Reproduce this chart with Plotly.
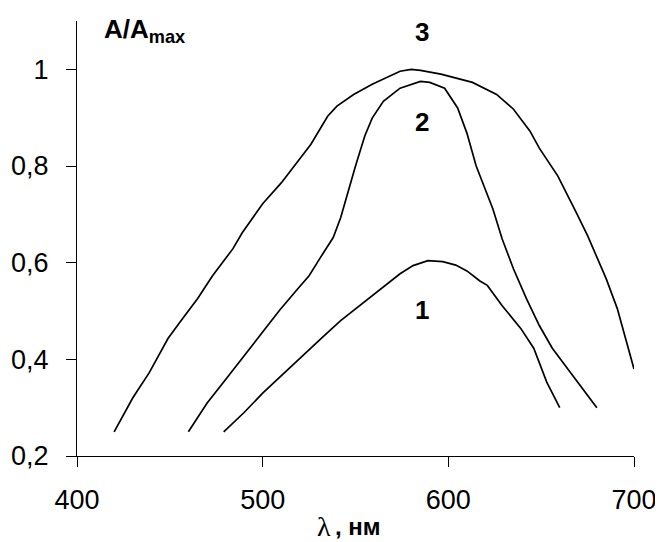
import plotly.graph_objects as go

# Curve 1
x1 = [479, 490, 500, 511, 522, 532, 542, 551, 559, 567, 574, 581, 589, 597, 604, 610, 617, 621, 629, 639, 646, 653, 660]
y1 = [0.25, 0.29, 0.33, 0.37, 0.41, 0.445, 0.48, 0.507, 0.532, 0.555, 0.577, 0.594, 0.604, 0.602, 0.595, 0.583, 0.562, 0.553, 0.511, 0.464, 0.423, 0.353, 0.30]

# Curve 2
x2 = [460, 470, 481, 497, 509, 518, 525, 531, 538, 542, 547, 550, 555, 559, 565, 574, 585, 590, 598, 605, 610, 615, 624, 629, 635, 642, 649, 656, 670, 680]
y2 = [0.25, 0.309, 0.363, 0.443, 0.501, 0.542, 0.573, 0.61, 0.652, 0.693, 0.763, 0.80, 0.862, 0.899, 0.934, 0.961, 0.975, 0.973, 0.961, 0.92, 0.868, 0.80, 0.711, 0.649, 0.588, 0.526, 0.47, 0.423, 0.351, 0.30]

# Curve 3
x3 = [420, 430, 439, 449, 456, 465, 473, 484, 489, 500, 510, 520, 526, 535, 540, 549, 559, 574, 580, 585, 596, 613, 626, 635, 644, 649, 659, 669, 675, 685, 691, 700]
y3 = [0.25, 0.32, 0.373, 0.443, 0.48, 0.526, 0.573, 0.629, 0.662, 0.722, 0.765, 0.814, 0.845, 0.903, 0.924, 0.948, 0.969, 0.996, 1.0, 0.998, 0.99, 0.973, 0.948, 0.918, 0.872, 0.837, 0.779, 0.703, 0.656, 0.567, 0.505, 0.38]

labels = ["1", "2", "3"]
label_x = [586, 586, 586]
label_y = [0.502, 0.891, 1.077]

FONT = "Liberation Sans, Arial, sans-serif"
SERIF = "Liberation Serif, Times New Roman, serif"

fig = go.Figure()
for xs, ys in [(x1, y1), (x2, y2), (x3, y3)]:
    fig.add_trace(go.Scatter(x=xs, y=ys, mode="lines",
                             line=dict(color="black", width=1.7),
                             showlegend=False, hoverinfo="skip"))

for t, lx, ly in zip(labels, label_x, label_y):
    fig.add_annotation(x=lx, y=ly, text="<b>" + t + "</b>", showarrow=False,
                       font=dict(family=FONT, size=26, color="black"))

fig.add_annotation(xref="paper", yref="paper", x=0.045, y=0.979, xanchor="left", yanchor="middle",
                   text="<b>A/A<sub>max</sub></b>", showarrow=False,
                   font=dict(family=FONT, size=26, color="black"))

fig.add_annotation(xref="paper", yref="paper", x=0.4596, y=-0.163, xanchor="right", yanchor="middle",
                   text="λ", showarrow=False,
                   font=dict(family=SERIF, size=28, color="black"))
fig.add_annotation(xref="paper", yref="paper", x=0.4596, y=-0.163, xanchor="left", yanchor="middle",
                   text="<b>, нм</b>", showarrow=False,
                   font=dict(family=FONT, size=24, color="black"))

fig.update_layout(
    width=655, height=534,
    margin=dict(l=69, r=29, t=13, b=86),
    paper_bgcolor="white", plot_bgcolor="white",
    separators=", ",
    font=dict(family=FONT, size=27, color="black"),
)
fig.update_xaxes(range=[400, 700], tick0=400, dtick=100, ticks="outside", ticklen=10,
                 tickcolor="black", showline=True, linecolor="black", linewidth=1,
                 ticklabelstandoff=10, automargin=False,
                 showgrid=False, zeroline=False, tickfont=dict(family=FONT, size=27))
fig.update_yaxes(range=[0.2, 1.1], tickvals=[0.2, 0.4, 0.6, 0.8, 1.0], ticks="outside", ticklen=10,
                 tickcolor="black", showline=True, linecolor="black", linewidth=1,
                 ticklabelstandoff=12, automargin=False,
                 showgrid=False, zeroline=False, tickfont=dict(family=FONT, size=27))

fig.write_html("out.html")
